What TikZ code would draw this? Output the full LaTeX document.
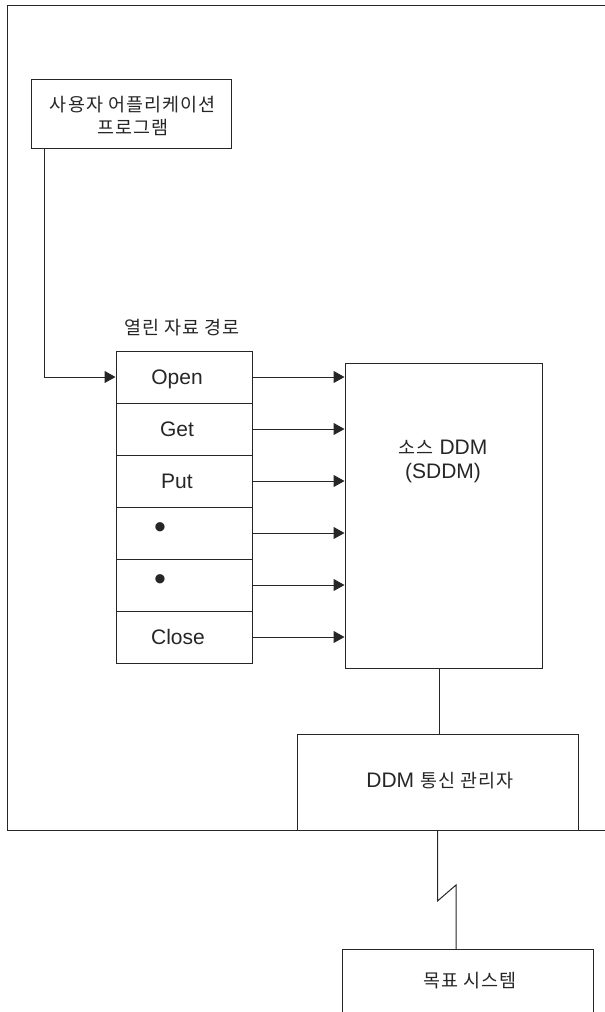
\documentclass[tikz,border=0pt]{standalone}
\usepackage{fontspec}
\setmainfont{Liberation Sans}
\newfontfamily\kr[Scale=0.88,LetterSpace=6]{Noto Sans CJK KR}
\usetikzlibrary{arrows.meta}
\newcommand\fs{\fontsize{21}{24}\selectfont}
\newcommand\bigbul{{\fontsize{34}{34}\selectfont •}}
\tikzset{
  ln/.style={line width=1pt, draw=black!85},
  arr/.style={ln, -{Triangle[length=11pt,width=12pt]}},
  box/.style={draw=black!85, line width=1pt, inner sep=0pt},
  cell/.style={box, minimum width=136pt, minimum height=52pt},
  lbl/.style={inner sep=0pt, font=\fs, text=black!85, align=center},
}
\begin{document}
\begin{tikzpicture}[x=1pt, y=-1pt]
\useasboundingbox (0,0) rectangle (605,1012);
% outer frame (open on the right)
\draw[ln] (605,5) -- (7,5) -- (7,830) -- (605,830);
% user application
\node[box, minimum width=200pt, minimum height=69pt] (app) at (131,113.5) {};
\node[lbl] (apptxt) at (133,116) {\kr 사용자 어플리케이션\\[-1pt]\kr 프로그램};
% open data path label
\node[lbl] (odp) at (182,328) {\kr 열린 자료 경로};
% stack of cells
\node[cell] (c1) at (184,377) {};
\node[cell] (c2) at (184,429) {};
\node[cell] (c3) at (184,481) {};
\node[cell] (c4) at (184,533) {};
\node[cell] (c5) at (184,585) {};
\node[cell] (c6) at (184,637) {};
\node[lbl] (t1) at (177,379) {Open};
\node[lbl] (t2) at (177,429) {Get};
\node[lbl] (t3) at (177,481) {Put};
\node[lbl] (t4) at (160,531) {\bigbul};
\node[lbl] (t5) at (160,583) {\bigbul};
\node[lbl] (t6) at (178,637) {Close};
% SDDM
\node[box, minimum width=197pt, minimum height=305pt] (sddm) at (443.5,515.5) {};
\node[lbl] (sddmtxt) at (443,461) {{\kr 소스} DDM\\(SDDM)};
% DDM comm manager
\node[box, minimum width=281pt, minimum height=96pt] (ddm) at (437.5,782) {};
\node[lbl] (ddmtxt) at (440,781) {DDM {\kr 통신 관리자}};
% target system (cut at bottom)
\node[lbl] (tgt) at (470,981) {\kr 목표 시스템};
\draw[ln] (342,1020) |- (593,949) -- (593,1020);
\coordinate (tgttop) at (456,949);
% connectors
\draw[arr] ([xshift=14pt]app.south west) |- (c1.west);
\foreach \i in {1,...,6}{
  \draw[arr] (c\i.east) -- (c\i.east -| sddm.west);
}
\draw[ln] ([xshift=-4.5pt]sddm.south) -- ([xshift=-4.5pt]sddm.south |- ddm.north);
\coordinate (z1) at (438,901);
\coordinate (z2) at (456,885);
\draw[ln] (ddm.south) -- (ddm.south |- z1) -- (z2) -- (tgttop);
\end{tikzpicture}
\end{document}
